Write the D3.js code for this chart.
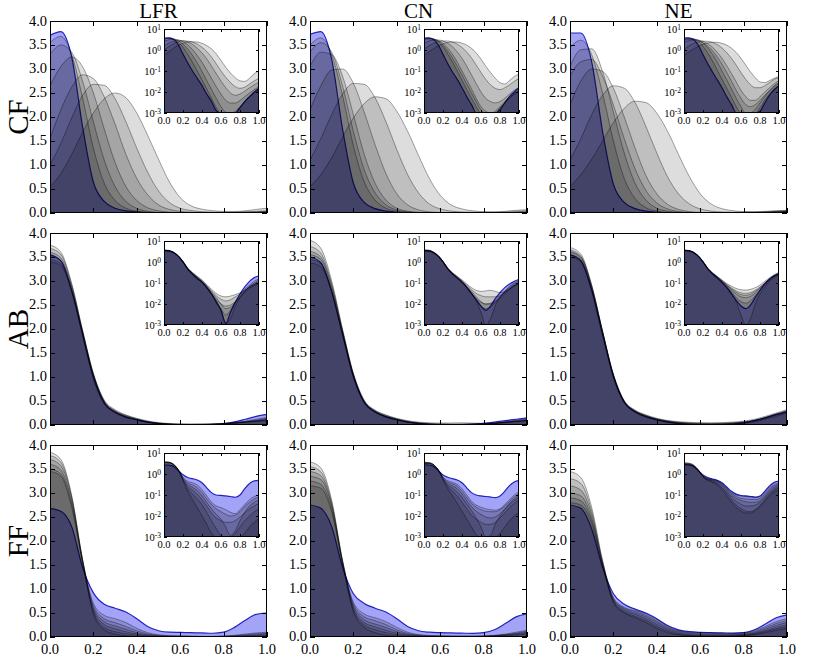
<!DOCTYPE html>
<html><head><meta charset="utf-8">
<script src="https://cdn.jsdelivr.net/npm/d3@7"></script>
<style>body{margin:0;background:#fff} svg{display:block} text{font-family:"Liberation Serif","DejaVu Serif",serif;fill:#000}</style>
</head><body><svg id="c" width="822" height="657"></svg>
<script>
// ---------------- data ----------------
const xGrid = [0,0.05,0.1,0.15,0.2,0.25,0.3,0.35,0.4,0.45,0.5,0.55,0.6,0.65,0.7,0.75,0.8,0.85,0.9,0.95,1.0];
const rowNames = ["CF","AB","FF"];
const colNames = ["LFR","CN","NE"];
const yTicks = [0,0.5,1,1.5,2,2.5,3,3.5,4];
const xTicks = [0,0.2,0.4,0.6,0.8,1.0];
const insetYTicks = [1e-3,1e-2,1e-1,1,10];
const insetYExp = ["-3","-2","-1","0","1"];

const CF_LFR_blue = [3.70,3.78,3.25,1.80,0.64,0.24,0.10,0.045,0.020,0.008,0.0035,0.0013,0.0005,0.0002,0.0004,0.0009,0.0018,0.0035,0.006,0.010,0.015];
const CF_LFR_gray = [
 [3.55,3.68,3.30,2.40,1.35,0.62,0.26,0.10,0.038,0.014,0.005,0.0018,0.0007,0.0004,0.0005,0.0009,0.0018,0.0035,0.006,0.009,0.012],
 [3.30,3.50,3.35,2.75,1.90,1.10,0.55,0.24,0.095,0.035,0.013,0.005,0.002,0.0011,0.0009,0.0012,0.002,0.0035,0.006,0.009,0.013],
 [2.65,3.05,3.25,3.05,2.50,1.75,1.05,0.55,0.26,0.11,0.045,0.018,0.008,0.004,0.003,0.003,0.004,0.006,0.009,0.013,0.018],
 [1.55,2.15,2.62,2.88,2.80,2.42,1.85,1.22,0.72,0.38,0.17,0.075,0.033,0.016,0.009,0.007,0.008,0.011,0.016,0.022,0.030],
 [1.00,1.45,1.98,2.45,2.68,2.66,2.38,1.90,1.35,0.85,0.46,0.22,0.10,0.05,0.028,0.018,0.015,0.017,0.024,0.034,0.045],
 [0.55,0.82,1.22,1.68,2.08,2.38,2.50,2.40,2.08,1.62,1.12,0.65,0.32,0.15,0.08,0.048,0.034,0.032,0.045,0.075,0.10]
];
const CF_CN_blue = [3.72,3.78,3.20,1.75,0.62,0.22,0.09,0.040,0.016,0.006,0.0025,0.0010,0.0004,0.0002,0.0003,0.0007,0.0014,0.003,0.006,0.010,0.016];
const CF_CN_gray = [
 [3.50,3.65,3.30,2.45,1.40,0.65,0.27,0.10,0.036,0.013,0.005,0.002,0.0008,0.0005,0.0005,0.0008,0.0015,0.003,0.005,0.008,0.011],
 [3.35,3.55,3.35,2.65,1.70,0.90,0.42,0.17,0.065,0.024,0.009,0.0035,0.0014,0.0008,0.0007,0.001,0.0018,0.003,0.005,0.008,0.011],
 [3.05,3.35,3.30,2.85,2.05,1.22,0.62,0.27,0.10,0.038,0.014,0.005,0.002,0.0012,0.001,0.0012,0.002,0.0035,0.006,0.009,0.012],
 [2.15,2.65,2.98,3.00,2.70,2.10,1.42,0.82,0.40,0.17,0.065,0.025,0.010,0.005,0.0035,0.003,0.0035,0.005,0.008,0.012,0.017],
 [1.10,1.55,2.05,2.48,2.70,2.68,2.40,1.90,1.32,0.80,0.42,0.19,0.085,0.040,0.022,0.015,0.013,0.016,0.022,0.032,0.045],
 [0.55,0.80,1.15,1.58,1.98,2.28,2.42,2.38,2.12,1.70,1.20,0.72,0.37,0.17,0.085,0.045,0.028,0.024,0.035,0.055,0.07]
];
const CF_NE_blue = [3.75,3.75,3.15,1.70,0.60,0.22,0.09,0.038,0.016,0.006,0.0025,0.001,0.0004,0.0002,0.0002,0.0005,0.0012,0.003,0.007,0.013,0.02];
const CF_NE_gray = [
 [3.45,3.60,3.30,2.50,1.50,0.72,0.30,0.11,0.04,0.015,0.0055,0.002,0.0008,0.0004,0.0004,0.0008,0.0018,0.004,0.008,0.014,0.02],
 [2.85,3.15,3.20,2.85,2.25,1.55,0.92,0.47,0.21,0.085,0.032,0.012,0.005,0.0025,0.002,0.0025,0.004,0.007,0.012,0.02,0.03],
 [3.05,3.40,3.42,2.95,2.10,1.25,0.62,0.27,0.10,0.038,0.014,0.005,0.002,0.001,0.001,0.0015,0.003,0.006,0.011,0.018,0.026],
 [2.25,2.75,3.00,2.95,2.60,2.00,1.35,0.78,0.40,0.18,0.075,0.03,0.012,0.006,0.004,0.004,0.006,0.010,0.016,0.025,0.035],
 [1.10,1.55,2.05,2.45,2.65,2.60,2.30,1.80,1.25,0.75,0.40,0.19,0.085,0.04,0.022,0.016,0.016,0.02,0.028,0.04,0.05],
 [0.55,0.80,1.12,1.50,1.88,2.18,2.33,2.30,2.08,1.70,1.22,0.76,0.40,0.19,0.09,0.048,0.03,0.028,0.035,0.045,0.055]
];
const AB_LFR_blue = [3.55,3.42,2.80,1.88,0.98,0.45,0.26,0.16,0.11,0.06,0.03,0.012,0.005,0.0012,0.004,0.012,0.03,0.065,0.12,0.18,0.22];
const AB_LFR_gray = [
 [3.75,3.60,2.95,1.98,1.08,0.52,0.32,0.21,0.14,0.085,0.05,0.032,0.024,0.022,0.024,0.028,0.034,0.045,0.06,0.075,0.09],
 [3.68,3.55,2.92,1.96,1.06,0.50,0.30,0.20,0.13,0.075,0.042,0.025,0.017,0.014,0.016,0.022,0.03,0.045,0.065,0.085,0.1],
 [3.60,3.48,2.88,1.95,1.05,0.49,0.29,0.19,0.12,0.07,0.038,0.02,0.010,0.006,0.007,0.012,0.022,0.04,0.065,0.09,0.12],
 [3.52,3.42,2.85,1.93,1.04,0.48,0.28,0.18,0.115,0.065,0.033,0.015,0.005,0.0012,0.002,0.008,0.02,0.04,0.07,0.1,0.14],
 [3.45,3.36,2.80,1.92,1.03,0.47,0.27,0.17,0.11,0.06,0.03,0.013,0.006,0.003,0.005,0.012,0.025,0.05,0.08,0.12,0.16],
 [3.40,3.32,2.78,1.90,1.02,0.46,0.27,0.17,0.105,0.058,0.03,0.016,0.01,0.008,0.009,0.013,0.02,0.035,0.055,0.08,0.11]
];
const AB_CN_blue = [3.50,3.38,2.78,1.88,1.00,0.47,0.27,0.17,0.11,0.062,0.032,0.016,0.008,0.005,0.008,0.018,0.035,0.06,0.09,0.12,0.15];
const AB_CN_gray = [
 [3.85,3.68,3.00,2.00,1.08,0.52,0.31,0.21,0.14,0.09,0.06,0.045,0.04,0.042,0.045,0.04,0.035,0.04,0.055,0.075,0.09],
 [3.72,3.58,2.94,1.97,1.06,0.50,0.30,0.20,0.13,0.08,0.048,0.032,0.025,0.022,0.022,0.022,0.025,0.035,0.05,0.07,0.09],
 [3.62,3.50,2.90,1.95,1.05,0.49,0.29,0.19,0.12,0.07,0.04,0.022,0.013,0.01,0.01,0.012,0.018,0.03,0.05,0.075,0.1],
 [3.55,3.45,2.86,1.94,1.04,0.48,0.28,0.18,0.115,0.065,0.033,0.014,0.004,0.0008,0.002,0.008,0.02,0.04,0.07,0.1,0.13],
 [3.45,3.36,2.80,1.92,1.03,0.47,0.27,0.17,0.11,0.06,0.03,0.015,0.008,0.006,0.007,0.012,0.022,0.04,0.065,0.09,0.12],
 [3.38,3.30,2.76,1.90,1.02,0.46,0.27,0.17,0.105,0.06,0.032,0.018,0.012,0.01,0.011,0.014,0.022,0.035,0.055,0.08,0.1]
];
const AB_NE_blue = [3.55,3.42,2.80,1.88,1.00,0.47,0.27,0.17,0.105,0.06,0.03,0.015,0.008,0.006,0.009,0.02,0.045,0.09,0.15,0.22,0.28];
const AB_NE_gray = [
 [3.70,3.56,2.92,1.96,1.06,0.51,0.31,0.21,0.14,0.095,0.07,0.055,0.048,0.046,0.05,0.06,0.08,0.12,0.18,0.25,0.32],
 [3.65,3.52,2.90,1.95,1.05,0.50,0.30,0.20,0.13,0.085,0.058,0.042,0.034,0.032,0.035,0.045,0.065,0.1,0.16,0.23,0.3],
 [3.62,3.50,2.88,1.94,1.04,0.49,0.29,0.19,0.125,0.08,0.052,0.036,0.028,0.026,0.029,0.04,0.06,0.095,0.15,0.21,0.26],
 [3.60,3.48,2.87,1.94,1.04,0.49,0.29,0.19,0.12,0.075,0.047,0.03,0.022,0.02,0.023,0.033,0.055,0.09,0.15,0.22,0.29],
 [3.55,3.44,2.84,1.93,1.03,0.48,0.28,0.18,0.115,0.068,0.038,0.02,0.013,0.011,0.014,0.025,0.045,0.08,0.14,0.2,0.27],
 [3.50,3.40,2.82,1.92,1.02,0.47,0.27,0.175,0.11,0.062,0.032,0.012,0.003,0.0007,0.002,0.01,0.03,0.065,0.12,0.18,0.25]
];
const FF_LFR_blue = [2.68,2.62,2.30,1.45,0.92,0.68,0.60,0.52,0.38,0.22,0.13,0.10,0.095,0.09,0.085,0.078,0.10,0.20,0.35,0.47,0.50];
const FF_LFR_gray = [
 [3.85,3.70,2.95,1.62,0.70,0.45,0.38,0.30,0.18,0.09,0.045,0.03,0.025,0.02,0.015,0.013,0.02,0.035,0.06,0.085,0.1],
 [3.78,3.64,2.92,1.61,0.65,0.38,0.30,0.22,0.13,0.065,0.035,0.022,0.016,0.012,0.01,0.011,0.016,0.028,0.045,0.065,0.08],
 [3.70,3.57,2.88,1.60,0.60,0.32,0.23,0.16,0.09,0.045,0.022,0.012,0.007,0.003,0.0012,0.002,0.006,0.015,0.03,0.045,0.06],
 [3.60,3.48,2.82,1.59,0.56,0.26,0.17,0.11,0.06,0.03,0.014,0.008,0.006,0.005,0.005,0.006,0.009,0.014,0.022,0.03,0.04],
 [3.50,3.40,2.76,1.57,0.52,0.20,0.11,0.065,0.035,0.015,0.006,0.0025,0.0012,0.0007,0.0008,0.0015,0.003,0.006,0.01,0.016,0.022],
 [3.45,3.35,2.70,1.55,0.48,0.15,0.06,0.025,0.01,0.004,0.0015,0.0006,0.0003,0.0002,0.0002,0.0004,0.0008,0.0015,0.003,0.005,0.008]
];
const FF_CN_blue = [2.75,2.68,2.30,1.45,0.90,0.70,0.60,0.52,0.38,0.22,0.13,0.10,0.09,0.085,0.08,0.075,0.09,0.15,0.28,0.42,0.48];
const FF_CN_gray = [
 [3.65,3.52,2.85,1.60,0.72,0.48,0.40,0.32,0.2,0.1,0.05,0.033,0.026,0.022,0.02,0.019,0.022,0.035,0.06,0.1,0.14],
 [3.55,3.44,2.80,1.58,0.68,0.42,0.34,0.26,0.15,0.075,0.04,0.026,0.02,0.017,0.016,0.016,0.02,0.03,0.05,0.08,0.12],
 [3.45,3.36,2.76,1.57,0.64,0.36,0.27,0.2,0.11,0.055,0.028,0.017,0.012,0.009,0.008,0.009,0.013,0.022,0.04,0.065,0.1],
 [3.35,3.28,2.72,1.56,0.60,0.30,0.21,0.14,0.075,0.038,0.018,0.008,0.003,0.0009,0.0012,0.004,0.01,0.02,0.035,0.055,0.08],
 [3.25,3.18,2.66,1.54,0.56,0.25,0.15,0.09,0.045,0.022,0.011,0.007,0.005,0.004,0.004,0.005,0.008,0.014,0.025,0.04,0.06],
 [3.15,3.10,2.60,1.52,0.52,0.20,0.09,0.04,0.017,0.007,0.003,0.0013,0.0006,0.0004,0.0004,0.0007,0.0015,0.003,0.006,0.01,0.015]
];
const FF_NE_blue = [2.75,2.68,2.25,1.45,0.90,0.68,0.58,0.50,0.38,0.24,0.15,0.11,0.095,0.09,0.085,0.08,0.09,0.15,0.27,0.40,0.46];
const FF_NE_gray = [
 [3.45,3.32,2.70,1.60,0.82,0.62,0.55,0.48,0.36,0.22,0.13,0.1,0.09,0.085,0.08,0.075,0.085,0.13,0.22,0.32,0.38],
 [3.30,3.20,2.62,1.57,0.80,0.60,0.53,0.45,0.33,0.2,0.12,0.085,0.07,0.065,0.062,0.06,0.07,0.11,0.19,0.28,0.34],
 [3.15,3.06,2.55,1.55,0.78,0.58,0.50,0.42,0.30,0.18,0.1,0.07,0.055,0.048,0.045,0.045,0.055,0.09,0.16,0.24,0.3],
 [3.00,2.94,2.48,1.53,0.76,0.55,0.47,0.38,0.26,0.15,0.08,0.05,0.036,0.03,0.03,0.033,0.045,0.075,0.13,0.2,0.26],
 [2.90,2.84,2.42,1.51,0.74,0.52,0.43,0.34,0.22,0.12,0.06,0.033,0.022,0.017,0.016,0.02,0.032,0.06,0.11,0.17,0.22],
 [2.80,2.75,2.36,1.49,0.72,0.50,0.40,0.30,0.18,0.09,0.045,0.025,0.017,0.014,0.014,0.018,0.028,0.05,0.09,0.14,0.18]
];

const panelBlue = [[CF_LFR_blue,CF_CN_blue,CF_NE_blue],[AB_LFR_blue,AB_CN_blue,AB_NE_blue],[FF_LFR_blue,FF_CN_blue,FF_NE_blue]];
const panelGray = [[CF_LFR_gray,CF_CN_gray,CF_NE_gray],[AB_LFR_gray,AB_CN_gray,AB_NE_gray],[FF_LFR_gray,FF_CN_gray,FF_NE_gray]];

// ---------------- layout ----------------
const svg = d3.select("#c");
const W = 217, H = 192;
const colX = [50, 310, 570], rowY = [21, 233, 445];
const IX = 114, IY = 8, IW = 95, IH = 84;
const grayAlpha = 0.135, blueFill = "rgb(0,0,235)", blueAlpha = 0.36;
const defs = svg.append("defs");
let clipN = 0;

function drawCurves(g, x, y, blue, grays, w, h) {
  const id = "clip" + (clipN++);
  defs.append("clipPath").attr("id", id).append("rect").attr("width", w).attr("height", h);
  const area = d3.area().x((d,i)=>x(xGrid[i])).y0(h).y1(d=>y(d)).curve(d3.curveMonotoneX);
  const line = d3.line().x((d,i)=>x(xGrid[i])).y(d=>y(d)).curve(d3.curveMonotoneX);
  const cg = g.append("g").attr("clip-path", `url(#${id})`);
  cg.append("path").attr("d", area(blue)).attr("fill", blueFill).attr("fill-opacity", blueAlpha);
  cg.append("path").attr("d", line(blue)).attr("fill","none").attr("stroke","#2222c0").attr("stroke-width",1.2);
  grays.forEach(s => {
    cg.append("path").attr("d", area(s)).attr("fill","#000").attr("fill-opacity", grayAlpha);
    cg.append("path").attr("d", line(s)).attr("fill","none").attr("stroke","#000").attr("stroke-opacity",0.36).attr("stroke-width",1);
  });
}

function frameTicks(g, w, h, xs, ys, x, y, len) {
  const t = g.append("g").attr("stroke","#000").attr("stroke-width",1);
  xs.forEach(v => {
    const px = Math.round(x(v)) + 0.5;
    t.append("line").attr("x1",px).attr("x2",px).attr("y1",h).attr("y2",h-len);
    t.append("line").attr("x1",px).attr("x2",px).attr("y1",0).attr("y2",len);
  });
  ys.forEach(v => {
    const py = Math.round(y(v)) + 0.5;
    t.append("line").attr("x1",0).attr("x2",len).attr("y1",py).attr("y2",py);
    t.append("line").attr("x1",w).attr("x2",w-len).attr("y1",py).attr("y2",py);
  });
  g.append("rect").attr("x",0.5).attr("y",0.5).attr("width",w-1).attr("height",h-1)
    .attr("fill","none").attr("stroke","#000").attr("stroke-width",1);
}

rowNames.forEach((rn, r) => {
  colNames.forEach((cn, c) => {
    const g = svg.append("g").attr("transform", `translate(${colX[c]},${rowY[r]})`);
    const x = d3.scaleLinear().domain([0,1]).range([0,W]);
    const y = d3.scaleLinear().domain([0,4]).range([H,0]);
    drawCurves(g, x, y, panelBlue[r][c], panelGray[r][c], W, H);
    frameTicks(g, W, H, xTicks, yTicks, x, y, 5);
    yTicks.forEach(v => {
      g.append("text").attr("x",-3).attr("y",y(v)).attr("dy","0.31em").attr("text-anchor","end")
        .style("font-size","14.5px").text(v.toFixed(1));
    });
    if (r === 2) {
      xTicks.forEach(v => {
        g.append("text").attr("x",x(v)).attr("y",H+17).attr("text-anchor","middle")
          .style("font-size","14.5px").text(v.toFixed(1));
      });
    }
    // inset
    const gi = g.append("g").attr("transform", `translate(${IX},${IY})`);
    gi.append("rect").attr("width",IW).attr("height",IH).attr("fill","#fff");
    const xi = d3.scaleLinear().domain([0,1]).range([0,IW]);
    const yi = d3.scaleLog().domain([1e-3,10]).range([IH,0]).clamp(true);
    drawCurves(gi, xi, yi, panelBlue[r][c], panelGray[r][c], IW, IH);
    frameTicks(gi, IW, IH, xTicks, insetYTicks, xi, yi, 3);
    xTicks.forEach(v => {
      gi.append("text").attr("x",xi(v)).attr("y",IH+11).attr("text-anchor","middle")
        .style("font-size","10.5px").text(v.toFixed(1));
    });
    insetYTicks.forEach((v,k) => {
      const t = gi.append("text").attr("x",-3).attr("y",yi(v)).attr("dy","0.38em").attr("text-anchor","end")
        .style("font-size","10.5px");
      t.append("tspan").text("10");
      t.append("tspan").attr("dy","-0.45em").style("font-size","7.5px").text(insetYExp[k]);
    });
    if (r === 0) {
      svg.append("text").attr("x", colX[c] + W/2).attr("y", 18).attr("text-anchor","middle")
        .style("font-size","21px").text(cn);
    }
    if (c === 0) {
      svg.append("text").attr("transform", `translate(28,${rowY[r] + H/2}) rotate(-90)`)
        .attr("text-anchor","middle").style("font-size","29px").text(rn);
    }
  });
});
</script></body></html>
